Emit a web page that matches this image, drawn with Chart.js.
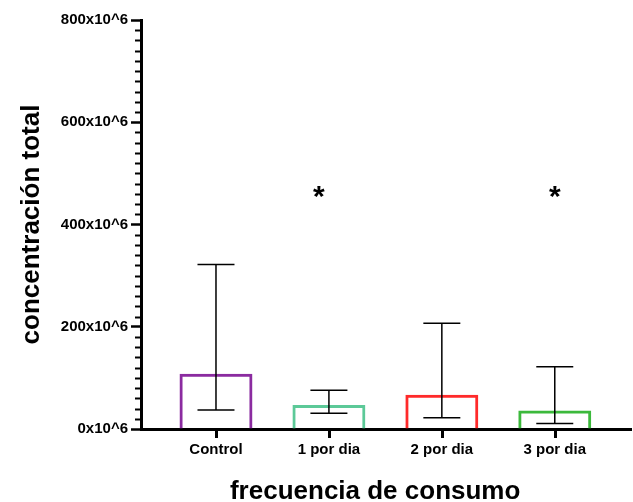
<!DOCTYPE html>
<html><head><meta charset="utf-8">
<script src="https://cdn.jsdelivr.net/npm/chart.js@4"></script>
<style>html,body{margin:0;padding:0;background:#fff}#wrap{width:633px;height:502px}</style>
</head><body><div id="wrap"><canvas id="c" width="633" height="502"></canvas></div>
<script>
const categories = ['Control', '1 por dia', '2 por dia', '3 por dia'];
const barValues = [108, 47, 67, 36];
const errLower = [37, 31, 22, 11];
const errUpper = [322, 76, 207, 122];
const sigMarks = ['', '*', '', '*'];
const sigX = [null, 1.91, null, 4.0];
const sigLevel = 437;
const yTickValues = [0, 200, 400, 600, 800];
const yMinorStep = 20;
const barColors = ['#8B2BA0', '#5CC998', '#FF2A2A', '#3CB93C'];

const FONT = '"Liberation Sans", Arial, sans-serif';

const extras = {
  id: 'extras',
  afterDraw(chart) {
    const ctx = chart.ctx;
    const xs = chart.scales.x, ys = chart.scales.y;
    const y0 = ys.getPixelForValue(0);
    ctx.save();
    ctx.strokeStyle = '#000';
    // minor ticks on y axis
    ctx.lineWidth = 2;
    for (let v = ys.min; v <= ys.max; v += yMinorStep) {
      if (yTickValues.includes(v)) continue;
      const py = Math.round(ys.getPixelForValue(v)) + 0.5;
      ctx.beginPath();
      ctx.moveTo(xs.left - 6, py);
      ctx.lineTo(xs.left, py);
      ctx.stroke();
    }
    // tick marks on x axis
    ctx.lineWidth = 3;
    categories.forEach((c, i) => {
      const px = Math.round(xs.getPixelForValue(i + 1)) + 0.5;
      ctx.beginPath();
      ctx.moveTo(px, y0);
      ctx.lineTo(px, y0 + 9);
      ctx.stroke();
    });
    // error bars
    ctx.lineWidth = 1.5;
    const cap = 18.5;
    categories.forEach((c, i) => {
      const px = xs.getPixelForValue(i + 1);
      const yl = ys.getPixelForValue(errLower[i]);
      const yu = ys.getPixelForValue(errUpper[i]);
      ctx.beginPath();
      ctx.moveTo(px, yl); ctx.lineTo(px, yu);
      ctx.moveTo(px - cap, yl); ctx.lineTo(px + cap, yl);
      ctx.moveTo(px - cap, yu); ctx.lineTo(px + cap, yu);
      ctx.stroke();
    });
    // significance marks
    ctx.fillStyle = '#000';
    ctx.font = 'bold 30px ' + FONT;
    ctx.textAlign = 'center';
    ctx.textBaseline = 'alphabetic';
    sigMarks.forEach((m, i) => {
      if (!m) return;
      ctx.fillText(m, xs.getPixelForValue(sigX[i]), ys.getPixelForValue(sigLevel));
    });
    ctx.restore();
  }
};

new Chart(document.getElementById('c'), {
  type: 'bar',
  data: {
    datasets: [{
      data: categories.map((c, i) => ({ x: i + 1, y: barValues[i] })),
      backgroundColor: 'rgba(255,255,255,0)',
      borderColor: barColors,
      borderWidth: 3,
      borderSkipped: 'bottom',
      categoryPercentage: 1,
      barPercentage: 0.646
    }]
  },
  options: {
    responsive: false,
    animation: false,
    devicePixelRatio: 1,
    layout: { padding: { top: 20, right: 2, left: 0, bottom: 0 } },
    plugins: { legend: { display: false }, tooltip: { enabled: false } },
    scales: {
      x: {
        type: 'linear',
        offset: false,
        min: 0.336,
        max: 4.675,
        afterBuildTicks: s => { s.ticks = categories.map((c, i) => ({ value: i + 1 })); },
        afterFit: s => { s.height = 73; },
        ticks: {
          autoSkip: false, maxRotation: 0, padding: 12,
          callback: v => categories[Math.round(v) - 1],
          color: '#000',
          font: { family: FONT, size: 15, weight: 'bold' }
        },
        grid: { offset: false, drawOnChartArea: false, drawTicks: false },
        border: { color: '#000', width: 3 },
        title: {
          display: true,
          text: 'frecuencia de consumo\u00a0\u00a0\u00a0',
          color: '#000',
          font: { family: FONT, size: 26, weight: 'bold', lineHeight: 0.6 },
          padding: { top: 0, bottom: 2 }
        }
      },
      y: {
        min: 0,
        max: 800,
        afterBuildTicks: s => { s.ticks = yTickValues.map(v => ({ value: v })); },
        afterFit: s => { s.width = 141; },
        ticks: {
          padding: 3,
          callback: v => v + 'x10^6',
          color: '#000',
          font: { family: FONT, size: 15, weight: 'bold' }
        },
        grid: { drawOnChartArea: false, tickLength: 10, tickWidth: 2.5, tickColor: '#000' },
        border: { color: '#000', width: 3 },
        title: {
          display: true,
          text: 'concentración total',
          color: '#000',
          font: { family: FONT, size: 26, weight: 'bold', lineHeight: 1 },
          padding: { top: 19, bottom: 0 }
        }
      }
    }
  },
  plugins: [extras]
});
</script>
</body></html>
